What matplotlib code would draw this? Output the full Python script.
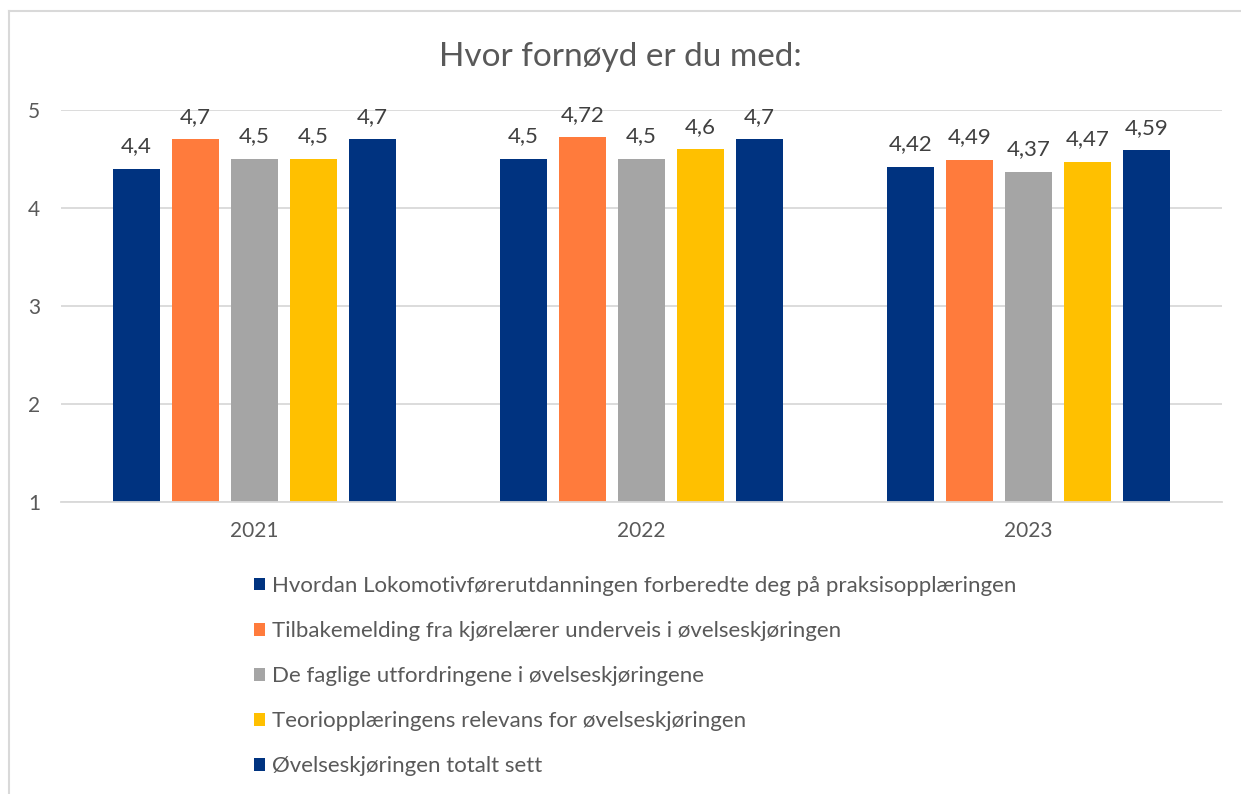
import numpy as np
import matplotlib
matplotlib.use('Agg')
from matplotlib import pyplot as plt
from matplotlib.patches import Patch
from matplotlib.lines import Line2D

plt.rcParams['font.family'] = ['Lato', 'DejaVu Sans']

years = ['2021', '2022', '2023']
series = ['Hvordan Lokomotivførerutdanningen forberedte deg på praksisopplæringen',
          'Tilbakemelding fra kjørelærer underveis i øvelseskjøringen',
          'De faglige utfordringene i øvelseskjøringene',
          'Teoriopplæringens relevans for øvelseskjøringen',
          'Øvelseskjøringen totalt sett']
vals = [[4.4, 4.5, 4.42],
        [4.7, 4.72, 4.49],
        [4.5, 4.5, 4.37],
        [4.5, 4.6, 4.47],
        [4.7, 4.7, 4.59]]
colors = ['#003380', '#FF7B3C', '#A5A5A5', '#FFC000', '#003380']
txt = '#595959'

fig = plt.figure(figsize=(12.41, 7.94), dpi=100)
W, H = 1241, 794
ax = fig.add_axes([61/W, 1-502/H, (1222-61)/W, (502-110)/H])

x = np.arange(len(years))
pitch = 0.1525
bw = 0.1215
for i, (s, v, c) in enumerate(zip(series, vals, colors)):
    pos = x + (i-2)*pitch
    ax.bar(pos, np.array(v)-1, bottom=1, width=bw, color=c, zorder=2)
    for xp, val in zip(pos, v):
        lab = ('%g' % val).replace('.', ',')
        ax.annotate(lab, (xp, val), xytext=(0, 9), textcoords='offset points',
                    ha='center', va='bottom', fontsize=16, color='#404040')

ax.set_xlim(-0.5, 2.5)
ax.set_ylim(1, 5)
ax.set_yticks([1, 2, 3, 4, 5])
ax.yaxis.grid(True, color='#D9D9D9', lw=1.3, zorder=0)
ax.set_axisbelow(True)
for sp in ['top', 'right', 'left']:
    ax.spines[sp].set_visible(False)
ax.spines['bottom'].set_color('#D9D9D9')
ax.spines['bottom'].set_linewidth(1.3)
ax.set_xticks(x)
ax.set_xticklabels(years)
ax.tick_params(axis='both', length=0, labelsize=15, labelcolor=txt)
ax.tick_params(axis='x', pad=14)
ax.tick_params(axis='y', pad=15)

fig.text(0.5, 1-57/H, 'Hvor fornøyd er du med:', ha='center', va='center',
         fontsize=24, color=txt)

handles = [Patch(facecolor=c, edgecolor='none') for c in colors]
fig.legend(handles, series, loc='upper left', bbox_to_anchor=(254/W, 1-576/H),
           frameon=False, fontsize=16, labelcolor=txt, handlelength=0.5,
           handleheight=0.5, handletextpad=0.3, labelspacing=1.13,
           borderaxespad=0, borderpad=0)

# outer frame (left and top edges only visible)
fig.add_artist(Line2D([9/W, 9/W], [0, 1-11/H], color='#D9D9D9', lw=1.5,
                      transform=fig.transFigure))
fig.add_artist(Line2D([9/W, 1], [1-11/H, 1-11/H], color='#D9D9D9', lw=1.5,
                      transform=fig.transFigure))

fig.savefig('out.png', dpi=100)
